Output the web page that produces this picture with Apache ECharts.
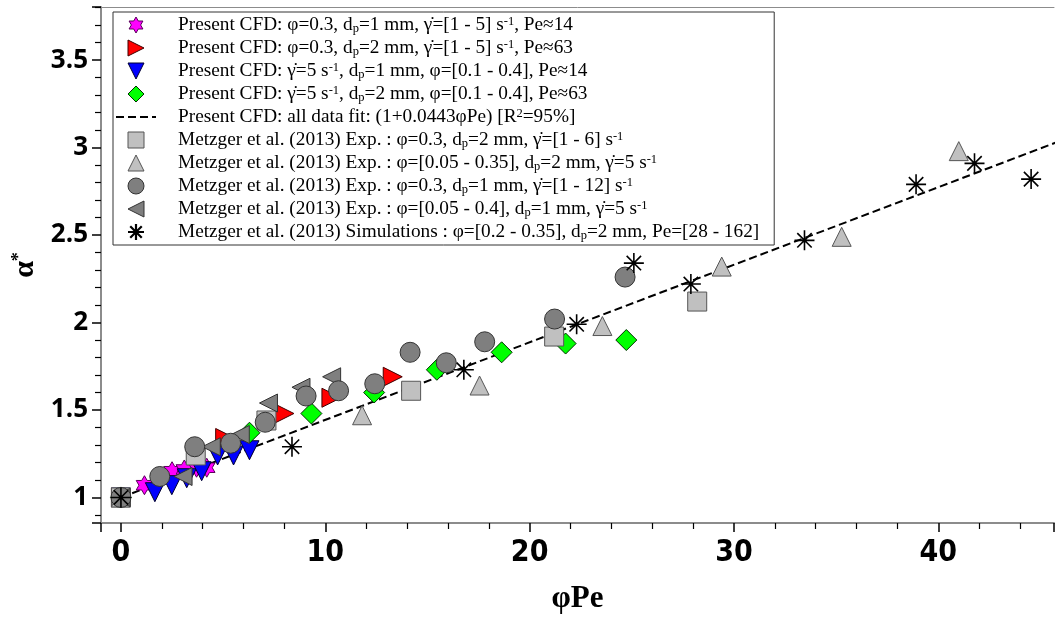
<!DOCTYPE html>
<html>
<head>
<meta charset="utf-8">
<script src="https://cdn.jsdelivr.net/npm/echarts@6/dist/echarts.min.js"></script>
<style>html,body{margin:0;padding:0;background:#fff;}#c{width:1057px;height:619px;}</style>
</head>
<body>
<div id="c"></div>
<script>
// ---- Series names (plain) and legend labels (rich markup) ----
const seriesNames = [
  'Present CFD: φ=0.3, dp=1 mm, γ̇=[1 - 5] s-1, Pe≈14',
  'Present CFD: φ=0.3, dp=2 mm, γ̇=[1 - 5] s-1, Pe≈63',
  'Present CFD: γ̇=5 s-1, dp=1 mm, φ=[0.1 - 0.4], Pe≈14',
  'Present CFD: γ̇=5 s-1, dp=2 mm, φ=[0.1 - 0.4], Pe≈63',
  'Present CFD: all data fit: (1+0.0443φPe) [R2=95%]',
  'Metzger et al. (2013) Exp. : φ=0.3, dp=2 mm, γ̇=[1 - 6] s-1',
  'Metzger et al. (2013) Exp. : φ=[0.05 - 0.35], dp=2 mm, γ̇=5 s-1',
  'Metzger et al. (2013) Exp. : φ=0.3, dp=1 mm, γ̇=[1 - 12] s-1',
  'Metzger et al. (2013) Exp. : φ=[0.05 - 0.4], dp=1 mm, γ̇=5 s-1',
  'Metzger et al. (2013) Simulations : φ=[0.2 - 0.35], dp=2 mm, Pe=[28 - 162]'
];
const legendLabels = [
  'Present CFD: φ=0.3, d{sub|p}=1 mm, γ̇=[1 - 5] s{sup|-1}, Pe≈14',
  'Present CFD: φ=0.3, d{sub|p}=2 mm, γ̇=[1 - 5] s{sup|-1}, Pe≈63',
  'Present CFD: γ̇=5 s{sup|-1}, d{sub|p}=1 mm, φ=[0.1 - 0.4], Pe≈14',
  'Present CFD: γ̇=5 s{sup|-1}, d{sub|p}=2 mm, φ=[0.1 - 0.4], Pe≈63',
  'Present CFD: all data fit: (1+0.0443φPe) [R{sup|2}=95%]',
  'Metzger et al. (2013) Exp. : φ=0.3, d{sub|p}=2 mm, γ̇=[1 - 6] s{sup|-1}',
  'Metzger et al. (2013) Exp. : φ=[0.05 - 0.35], d{sub|p}=2 mm, γ̇=5 s{sup|-1}',
  'Metzger et al. (2013) Exp. : φ=0.3, d{sub|p}=1 mm, γ̇=[1 - 12] s{sup|-1}',
  'Metzger et al. (2013) Exp. : φ=[0.05 - 0.4], d{sub|p}=1 mm, γ̇=5 s{sup|-1}',
  'Metzger et al. (2013) Simulations : φ=[0.2 - 0.35], d{sub|p}=2 mm, Pe=[28 - 162]'
];

// ---- Data: [φPe, α*] ----
const cfdPhi03d1 = [[0,1],[1.15,1.07],[2.5,1.15],[3.1,1.16],[3.7,1.17],[4.2,1.17]];
const cfdPhi03d2 = [[0,1],[5.1,1.34],[8.0,1.48],[10.3,1.57],[13.3,1.69]];
const cfdG5d1    = [[0,1],[1.66,1.03],[2.49,1.07],[3.22,1.11],[3.95,1.15],[4.73,1.24],[5.51,1.24],[6.29,1.27]];
const cfdG5d2    = [[0,1],[6.29,1.37],[9.32,1.48],[12.39,1.60],[15.46,1.73],[18.63,1.83],[21.76,1.88],[24.73,1.90]];
const fitLine    = [[0,1.0],[46,3.04]];
const metSquare  = [[0,1],[3.66,1.24],[7.12,1.44],[14.2,1.61],[21.2,1.92],[28.2,2.12]];
const metTriUp   = [[0,1],[11.8,1.47],[17.55,1.64],[23.56,1.98],[29.4,2.32],[35.27,2.49],[41.0,2.98]];
const metCircle  = [[0,1],[1.9,1.12],[3.61,1.29],[5.37,1.31],[7.06,1.43],[9.06,1.58],[10.65,1.61],[12.42,1.65],[14.15,1.83],[15.92,1.77],[17.8,1.89],[21.22,2.02],[24.67,2.26]];
const metTriLeft = [[0,1],[3.04,1.12],[4.42,1.29],[5.84,1.36],[7.22,1.54],[8.81,1.63],[10.31,1.69]];
const metSim     = [[0,1],[8.37,1.29],[16.78,1.73],[22.3,1.99],[25.1,2.34],[27.89,2.22],[33.45,2.47],[38.91,2.79],[41.77,2.91],[44.54,2.82]];

const labelMap = {};
seriesNames.forEach((n, i) => { labelMap[n] = legendLabels[i]; });

const STAR = 'path://M100,0L128.87,50L186.6,50L157.74,100L186.6,150L128.87,150L100,200L71.13,150L13.4,150L42.26,100L13.4,50L71.13,50Z';
const TRI_R = 'path://M0,0L100,50L0,100Z';
const TRI_D = 'path://M0,0L100,0L50,100Z';
const TRI_L = 'path://M100,0L0,50L100,100Z';
const TRI_U = 'path://M50,0L100,100L0,100Z';
const RECT = 'path://M0,0L100,0L100,100L0,100Z';
const DIAM = 'path://M50,0L100,50L50,100L0,50Z';
const ASTER = 'path://M0,50L100,50M50,0L50,100M14,14L86,86M86,14L14,86';

function sc(i, data, symbol, size, color, border, z, bw) {
  return {
    name: seriesNames[i], type: 'scatter', data: data, symbol: symbol, symbolSize: size,
    symbolKeepAspect: true, z: z || 2, silent: true,
    itemStyle: { color: color, borderColor: border, borderWidth: bw || 1, opacity: 1 }
  };
}

const serif = '"Liberation Serif", "DejaVu Serif", serif';
const legendData = seriesNames.map((n, i) => {
  if (i === 4) return { name: n, itemStyle: { color: 'rgba(0,0,0,0)', borderColor: 'rgba(0,0,0,0)', borderWidth: 0 } };
  if (i === 9) return { name: n, itemStyle: { borderWidth: 2.2 } };
  return { name: n };
});

const chart = echarts.init(document.getElementById('c'), null, { renderer: 'canvas' });
chart.setOption({
  animation: false,
  backgroundColor: '#fff',
  grid: { left: 101, right: 0, top: 7, bottom: 88 },
  legend: {
    show: true, orient: 'vertical', left: 113, top: 12,
    backgroundColor: '#fff', borderColor: '#333', borderWidth: 1,
    padding: [3, 15, 3, 2], itemGap: 3, itemWidth: 40, itemHeight: 16,
    selectedMode: false,
    itemStyle: { borderWidth: 1 },
    data: legendData,
    formatter: function (name) { return labelMap[name]; },
    textStyle: {
      fontFamily: serif, fontSize: 19.3, color: '#000', lineHeight: 20, padding: [0, 0, 0, 17],
      rich: {
        sub: { fontFamily: serif, fontSize: 12.5, lineHeight: 12, verticalAlign: 'bottom', color: '#000' },
        sup: { fontFamily: serif, fontSize: 12.5, lineHeight: 12, verticalAlign: 'top', color: '#000' }
      }
    }
  },
  xAxis: [{
    type: 'value', min: -0.976, max: 45.66, splitNumber: 5, minInterval: 10, maxInterval: 10,
    axisLine: { show: true, onZero: false, lineStyle: { color: '#8c8c8c', width: 2 } },
    axisTick: { show: true, inside: false, length: 9, lineStyle: { color: '#000', width: 1.5 } },
    minorTick: { show: true, splitNumber: 5, length: 6, lineStyle: { color: '#000', width: 1.2 } },
    splitLine: { show: false },
    axisLabel: {
      margin: 15, color: '#000', fontSize: 30, fontWeight: 'bold',
      fontFamily: '"DejaVu Sans Condensed", "Liberation Sans Narrow", sans-serif',
      formatter: function (v) { return Math.abs(v / 10 - Math.round(v / 10)) < 1e-6 ? String(Math.round(v)) : ''; }
    },
    name: 'φPe', nameLocation: 'middle', nameGap: 60,
    nameTextStyle: { fontFamily: serif, fontWeight: 'bold', fontSize: 31, color: '#000' }
  }, {
    type: 'value', position: 'top', min: -0.976, max: 45.66,
    axisLine: { show: true, onZero: false, lineStyle: { color: '#8c8c8c', width: 1 } },
    axisTick: { show: false }, axisLabel: { show: false }, splitLine: { show: false }
  }],
  yAxis: {
    type: 'value', min: 0.854, max: 3.804, splitNumber: 6, minInterval: 0.5, maxInterval: 0.5,
    axisLine: { show: true, onZero: false, lineStyle: { color: '#8c8c8c', width: 2 } },
    axisTick: { show: true, inside: false, length: 9, lineStyle: { color: '#000', width: 1.5 } },
    minorTick: { show: true, splitNumber: 5, length: 6, lineStyle: { color: '#000', width: 1.2 } },
    splitLine: { show: false },
    axisLabel: {
      margin: 13, color: '#000', fontSize: 26, fontWeight: 'bold',
      fontFamily: '"Open Sans", "Noto Sans", sans-serif',
      formatter: function (v) { return Math.abs(v * 2 - Math.round(v * 2)) < 1e-6 ? String(Math.round(v * 2) / 2) : ''; }
    },
    name: '{a|α}{s|*}', nameLocation: 'middle', nameGap: 58,
    nameTextStyle: {
      rich: {
        a: { fontFamily: serif, fontWeight: 'bold', fontSize: 30, lineHeight: 30, color: '#000' },
        s: { fontFamily: serif, fontWeight: 'bold', fontSize: 18, lineHeight: 18, verticalAlign: 'top', color: '#000' }
      }
    }
  },
  series: [
    sc(0, cfdPhi03d1, STAR, 19, '#ff00ff', '#5a005a', 2),
    sc(1, cfdPhi03d2, TRI_R, 19, '#ff0000', '#400000', 2),
    sc(2, cfdG5d1, TRI_D, 19, '#0000ff', '#000030', 2),
    sc(3, cfdG5d2, DIAM, 21, '#00ff00', '#003000', 2),
    {
      name: seriesNames[4], type: 'line', data: fitLine, symbol: 'none', silent: true, z: 2,
      lineStyle: { color: '#000', width: 2, type: [8, 4] }, itemStyle: { color: '#000' }
    },
    sc(5, metSquare, RECT, 19, '#c0c0c0', '#555', 2),
    sc(6, metTriUp, TRI_U, 19, '#c0c0c0', '#555', 2),
    sc(7, metCircle, 'circle', 20, '#7f7f7f', '#333', 3),
    sc(8, metTriLeft, TRI_L, 18, '#7f7f7f', '#333', 2),
    sc(9, metSim, ASTER, 20, 'rgba(0,0,0,0)', '#000', 4, 1.6)
  ]
});
</script>
</body>
</html>
